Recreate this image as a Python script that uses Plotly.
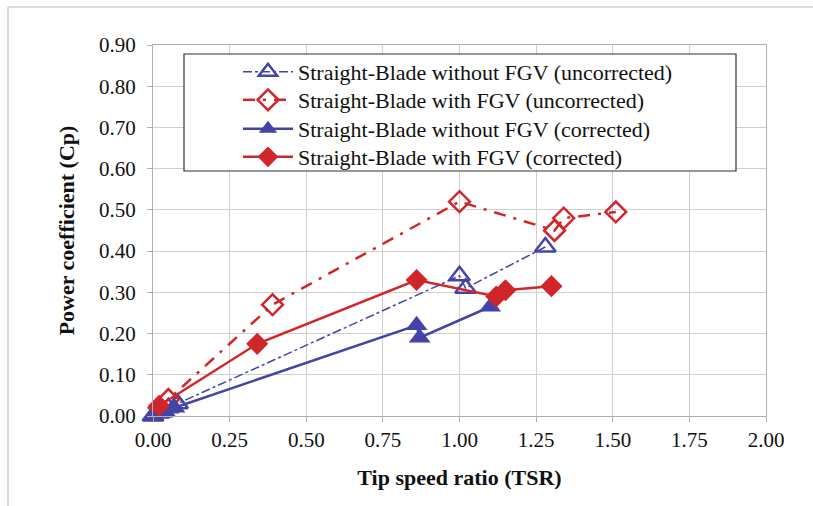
import plotly.graph_objects as go

BLUE = "#4444A8"
RED = "#D0262A"
FONT = "Liberation Serif, Times New Roman, serif"

names = [
    "Straight-Blade without FGV (uncorrected)",
    "Straight-Blade with FGV (uncorrected)",
    "Straight-Blade without FGV (corrected)",
    "Straight-Blade with FGV (corrected)",
]

tsr_unc_nofgv = [0.0, 0.03, 0.05, 0.08, 1.00, 1.02, 1.28]
cp_unc_nofgv = [0.0, 0.01, 0.02, 0.03, 0.34, 0.31, 0.41]

tsr_unc_fgv = [0.02, 0.05, 0.39, 1.00, 1.31, 1.34, 1.51]
cp_unc_fgv = [0.02, 0.04, 0.27, 0.52, 0.45, 0.48, 0.495]

tsr_cor_nofgv = [0.0, 0.02, 0.04, 0.07, 0.86, 0.87, 1.10]
cp_cor_nofgv = [0.0, 0.005, 0.01, 0.02, 0.22, 0.19, 0.265]

tsr_cor_fgv = [0.02, 0.34, 0.86, 1.12, 1.15, 1.30]
cp_cor_fgv = [0.025, 0.175, 0.33, 0.29, 0.305, 0.315]

x_ticks = [0, 0.25, 0.5, 0.75, 1.0, 1.25, 1.5, 1.75, 2.0]
y_ticks = [0, 0.1, 0.2, 0.3, 0.4, 0.5, 0.6, 0.7, 0.8, 0.9]

fig = go.Figure()
fig.add_trace(go.Scatter(
    x=tsr_unc_nofgv, y=cp_unc_nofgv, name=names[0], mode="lines+markers", legend="legend",
    line=dict(color=BLUE, width=1.5, dash="dashdot"),
    marker=dict(symbol="triangle-up-open", size=18, color=BLUE, line=dict(width=2.5, color=BLUE)),
    cliponaxis=False))
fig.add_trace(go.Scatter(
    x=tsr_unc_fgv, y=cp_unc_fgv, name=names[1], mode="lines+markers", legend="legend2",
    line=dict(color=RED, width=2.5, dash="12px,8px,3px,8px"),
    marker=dict(symbol="diamond-open", size=16, color=RED, line=dict(width=2.5, color=RED)),
    cliponaxis=False))
fig.add_trace(go.Scatter(
    x=tsr_cor_nofgv, y=cp_cor_nofgv, name=names[2], mode="lines+markers", legend="legend3",
    line=dict(color=BLUE, width=2.5),
    marker=dict(symbol="triangle-up", size=19, color=BLUE),
    cliponaxis=False))
fig.add_trace(go.Scatter(
    x=tsr_cor_fgv, y=cp_cor_fgv, name=names[3], mode="lines+markers", legend="legend4",
    line=dict(color=RED, width=2.5),
    marker=dict(symbol="diamond", size=17, color=RED),
    cliponaxis=False))

L, R, T, B = 153, 47, 45, 90
PW, PH = 813 - L - R, 506 - T - B

def px2x(px):
    return (px - L) / PW

def px2y(py):
    return (506 - B - py) / PH

shapes = [
    dict(type="line", xref="paper", yref="paper", x0=px2x(8), x1=px2x(813), y0=px2y(7), y1=px2y(7),
         line=dict(color="#d0d0d0", width=1.5)),
    dict(type="line", xref="paper", yref="paper", x0=px2x(8), x1=px2x(8), y0=px2y(7), y1=px2y(506),
         line=dict(color="#d0d0d0", width=1.5)),
    dict(type="rect", xref="paper", yref="paper", x0=px2x(184), x1=px2x(736), y0=px2y(54), y1=px2y(171),
         line=dict(color="#333333", width=1.2), fillcolor="white", layer="above"),
]

def leg(row_px):
    return dict(x=px2x(238), y=px2y(row_px), xanchor="left", yanchor="middle",
                bgcolor="rgba(0,0,0,0)", borderwidth=0,
                font=dict(family=FONT, size=22, color="#111111"),
                itemwidth=50)

fig.update_layout(
    width=813, height=506,
    margin=dict(l=L, r=R, t=T, b=B),
    paper_bgcolor="white", plot_bgcolor="white",
    font=dict(family=FONT, size=21, color="#111111"),
    showlegend=True,
    legend=leg(72), legend2=leg(100), legend3=leg(129), legend4=leg(157),
    shapes=shapes,
    xaxis=dict(range=[0, 2], tickvals=x_ticks, tickformat=".2f",
               showgrid=True, gridcolor="#cfcfcf", gridwidth=1,
               showline=True, linecolor="#b0b0b0", mirror=True, linewidth=1,
               ticks="outside", ticklen=5, tickcolor="#b0b0b0", zeroline=False,
               tickfont=dict(family=FONT, size=21),
               title=dict(text="<b>Tip speed ratio (TSR)</b>", font=dict(family=FONT, size=22), standoff=18)),
    yaxis=dict(range=[0, 0.9], tickvals=y_ticks, tickformat=".2f",
               showgrid=True, gridcolor="#cfcfcf", gridwidth=1,
               showline=True, linecolor="#b0b0b0", mirror=True, linewidth=1,
               ticks="outside", ticklen=5, tickcolor="#b0b0b0", zeroline=False,
               tickfont=dict(family=FONT, size=21), ticklabelstandoff=7,
               title=dict(text="<b>Power coefficient (Cp)</b>", font=dict(family=FONT, size=22), standoff=18)),
)

fig.write_html("out.html")
